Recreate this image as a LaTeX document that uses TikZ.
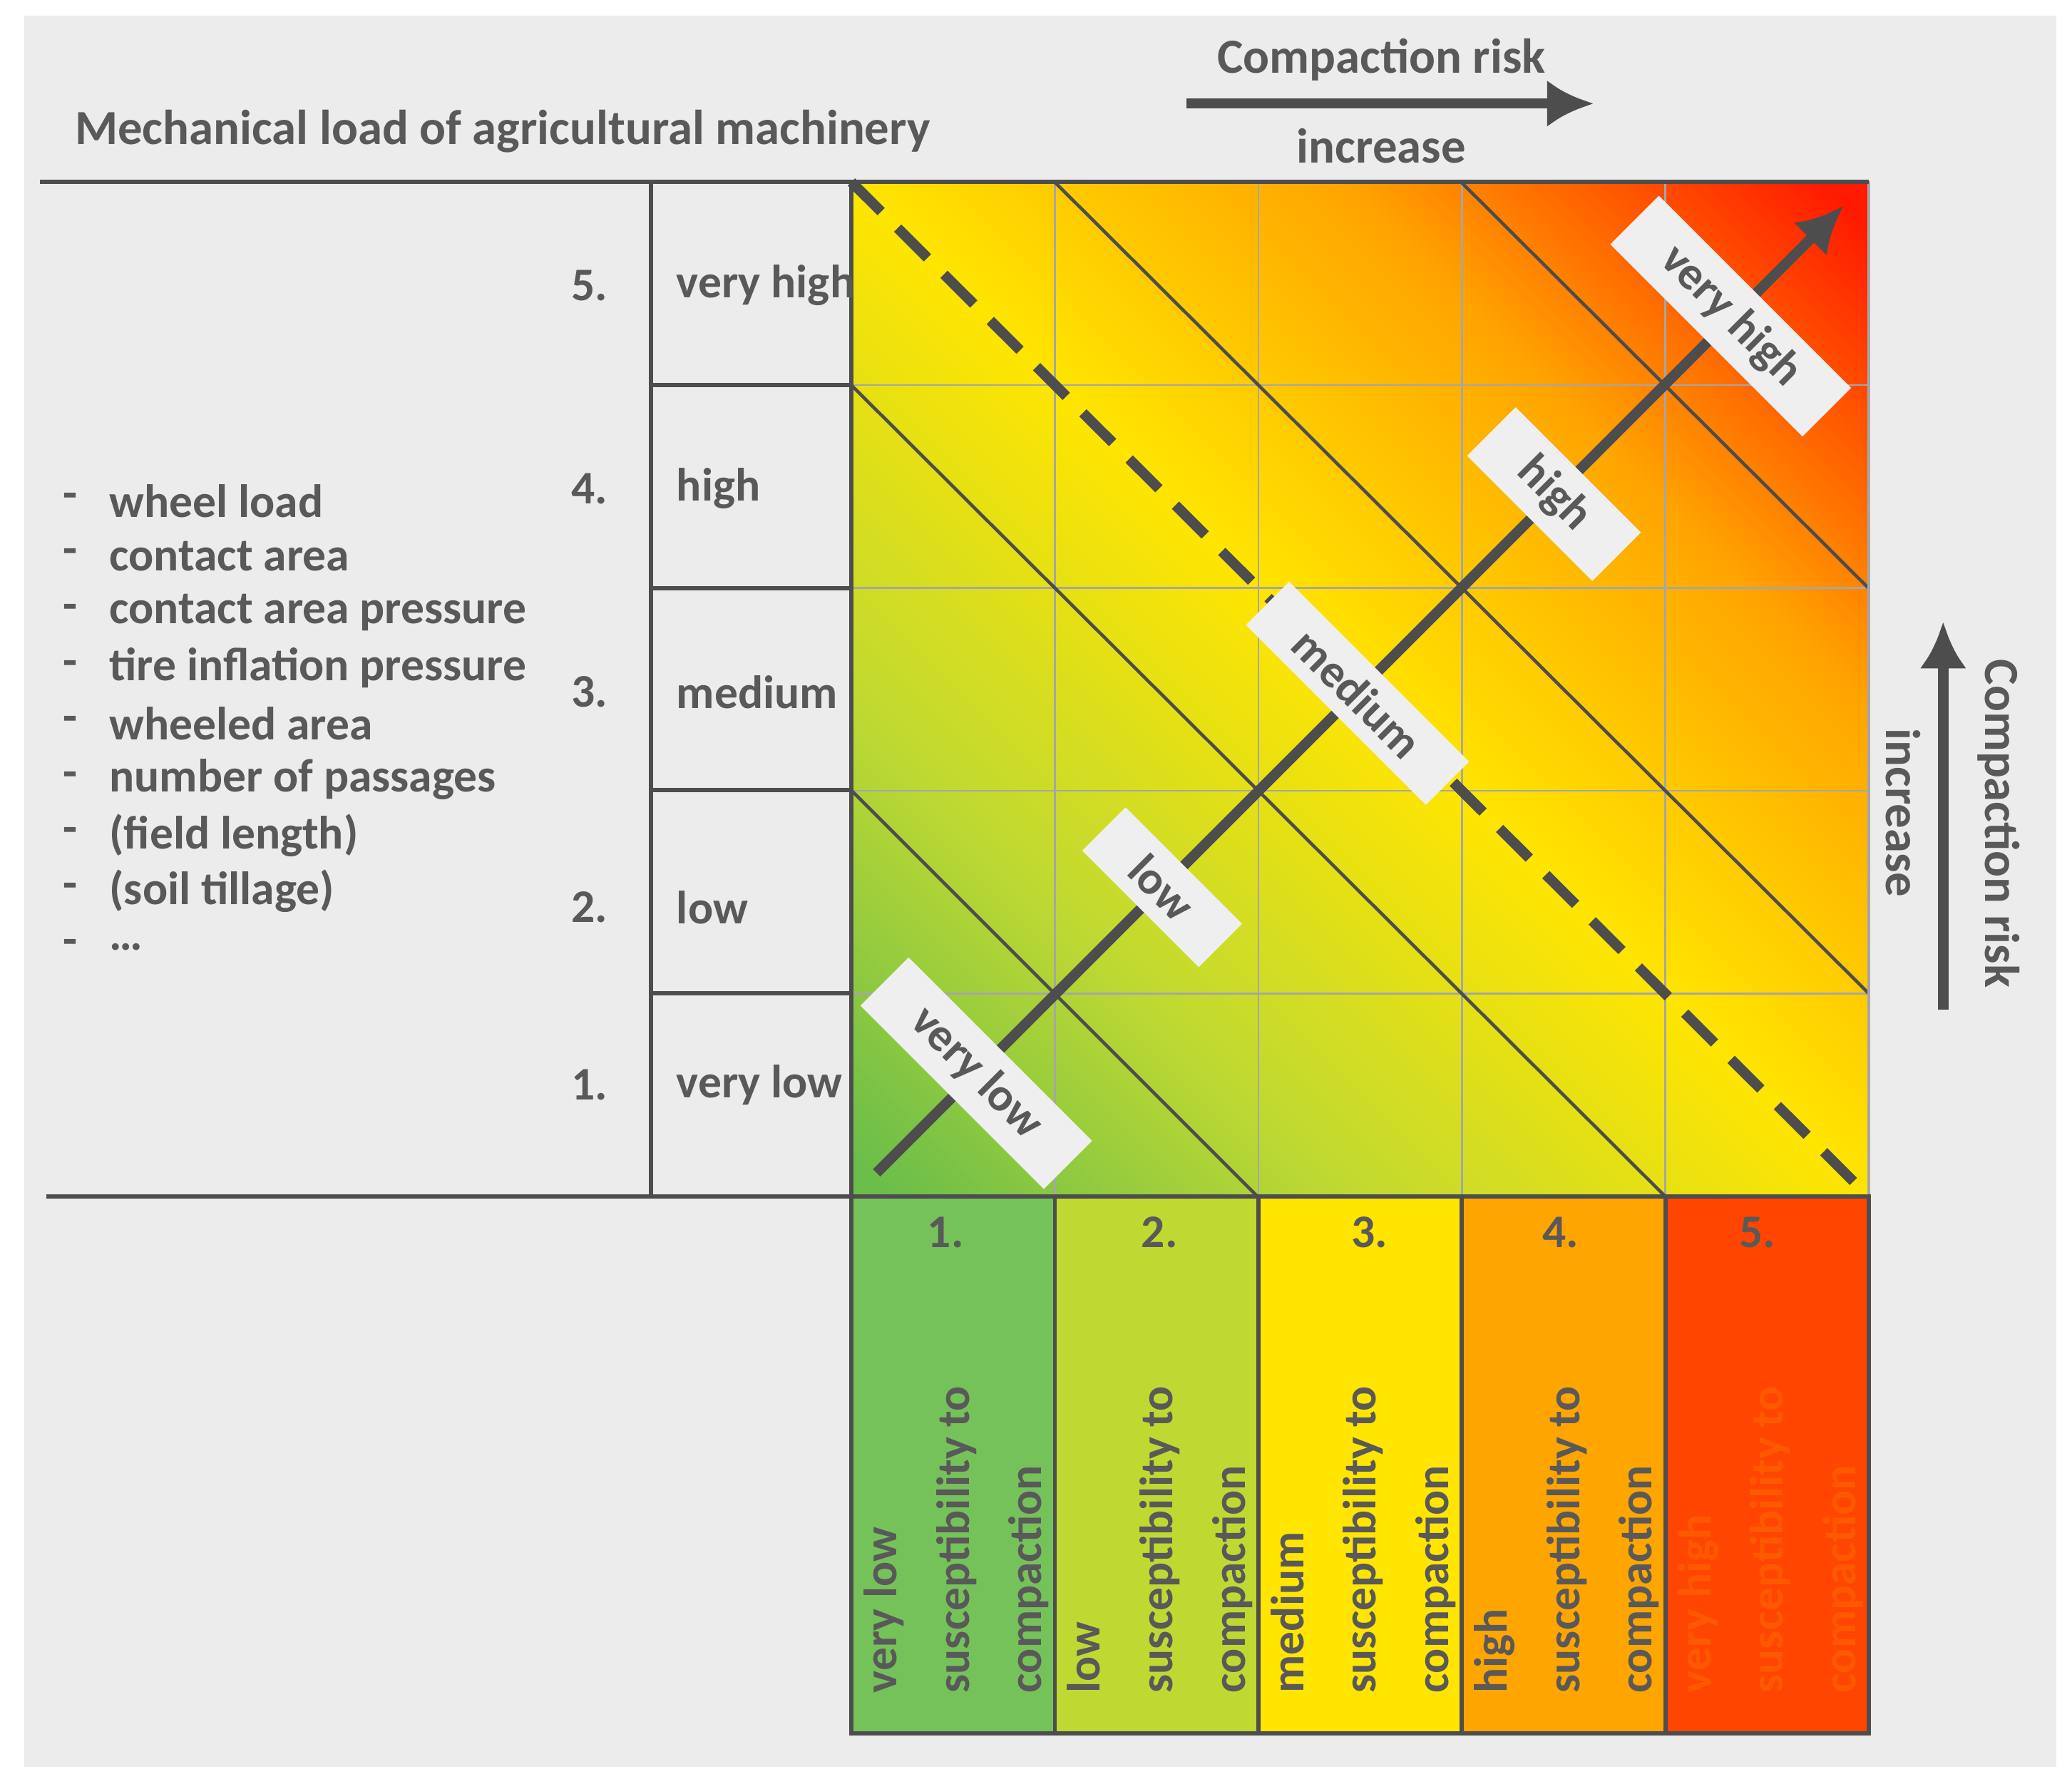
\documentclass[tikz,border=0pt]{standalone}
\usepackage{fontspec}
\setmainfont{Carlito}
\usetikzlibrary{positioning, calc, arrows.meta}
\definecolor{txtgray}{HTML}{595959}
\definecolor{linegray}{HTML}{4D4D4D}
\definecolor{bggray}{HTML}{ECECEC}
\definecolor{cgreen}{HTML}{76C25A}
\definecolor{cyg}{HTML}{C0D932}
\definecolor{cyel}{HTML}{FFE500}
\definecolor{corg}{HTML}{FFA500}
\definecolor{cred}{HTML}{FF4500}
\definecolor{sgreen}{HTML}{6CBE4A}
\definecolor{sred}{HTML}{FF1A00}
\pgfdeclarehorizontalshading{riskshade}{100bp}{color(0bp)=(sgreen); color(16bp)=(sgreen); color(32bp)=(cyg); color(50bp)=(cyel); color(67bp)=(corg); color(84bp)=(sred); color(100bp)=(sred)}
\tikzset{
  lbl/.style = {font=\bfseries\fontsize{10}{12}\selectfont, text=txtgray},
  title/.style = {font=\bfseries\fontsize{10.5}{12}\selectfont, text=txtgray},
  riskbox/.style = {fill=bggray!85!white, rotate=-45, font=\bfseries\fontsize{10}{12}\selectfont, text=txtgray, inner xsep=10pt, inner ysep=3pt},
  diag/.style = {draw=linegray, line width=0.7pt},
  bigarrow/.style = {draw=linegray, line width=2.2pt, -{Latex[length=10pt,width=10pt]}},
  susc/.style = {rotate=90, anchor=west, align=left, font=\bfseries\fontsize{10}{15.5}\selectfont}
}
\begin{document}
\begin{tikzpicture}[x=0.01cm, y=-0.01cm]
  \useasboundingbox (0,0) rectangle (1560,1343);
  \fill[bggray] (18,12) rectangle (1548,1330);
  % matrix
  \shade[shading=riskshade, shading angle=45] (641,137) rectangle (1407,901);
  \foreach \i in {1,2,3,4} {
    \draw[gray!70, line width=0.4pt] ({641+\i*153.2},137) -- ({641+\i*153.2},901);
    \draw[gray!70, line width=0.4pt] (641,{137+\i*152.8}) -- (1407,{137+\i*152.8});
  }
  \draw[diag] (641,595) -- (947,901);
  \draw[diag] (641,290) -- (1254,901);
  \draw[diag] (794,137) -- (1407,748);
  \draw[diag] (1100,137) -- (1407,443);
  \draw[linegray, line width=2.2pt, dash pattern=on 9pt off 5pt] (641,137) -- (1407,901);
  \draw[gray!70, line width=0.5pt] (641,137) rectangle (1407,901);
  % arrow with classes
  \coordinate (arrstart) at (660,883);
  \coordinate (arrend) at (1388,155);
  \draw[bigarrow] (arrstart) -- (arrend);
  \node[riskbox] (rvl) at (735,808) {very low};
  \node[riskbox] (rl) at (875,668) {low};
  \node[riskbox] (rm) at (1022,522) {medium};
  \node[riskbox] (rh) at (1170,372) {high};
  \node[riskbox] (rvh) at (1303,238) {very high};
  % left table
  \draw[linegray, line width=0.9pt] (30,137) -- (1407,137);
  \draw[linegray, line width=0.9pt] (35,901) -- (1407,901);
  \draw[linegray, line width=0.9pt] (490,137) -- (490,901);
  \foreach \y in {290,443,595,748} \draw[linegray, line width=0.9pt] (490,\y) -- (641,\y);
  \draw[linegray, line width=0.9pt] (641,137) -- (641,901);
  \foreach \n/\t/\y in {5/very high/215, 4/high/368, 3/medium/521, 2/low/683, 1/very low/817} {
    \node[lbl, anchor=east] (num\n) at (470,\y) {\n.};
    \node[lbl, anchor=west] at (497,\y) {\t};
  }
  \foreach \t [count=\k] in {wheel load, contact area, contact area pressure, tire inflation pressure, wheeled area, number of passages, (field length), (soil tillage), \ldots} {
    \node[lbl, anchor=west] at (35,{335+\k*42}) {-};
    \node[lbl, anchor=west] at (70,{335+\k*42}) {\t};
  }
  % titles
  \node[title, anchor=west] (mech) at (44,99) {Mechanical load of agricultural machinery};
  \node[title] (riskx) at (1040,45) {Compaction risk};
  \node[title] (incx) at (1040,110) {increase};
  \coordinate (ax0) at (893,78);
  \coordinate (ax1) at (1200,78);
  \draw[bigarrow] (ax0) -- (ax1);
  \node[title, rotate=-90] (risky) at (1505,620) {Compaction risk};
  \node[title, rotate=-90] (incy) at (1433,612) {increase};
  \coordinate (ay0) at (1463,760);
  \coordinate (ay1) at (1463,468);
  \draw[bigarrow] (ay0) -- (ay1);
  % susceptibility classes
  \foreach \c/\t/\tc/\nx [count=\k from 0] in {cgreen/very low/txtgray/712, cyg/low/txtgray/873, cyel/medium/txtgray/1031, corg/high/txtgray/1175, cred/very high/orange!70!red/1323} {
    \draw[linegray, line width=0.9pt, fill=\c] ({641+\k*153.2},901) rectangle ({641+(\k+1)*153.2},1305);
    \node[lbl] at (\nx,928) {\the\numexpr\k+1\relax.};
    \node[susc, text=\tc] at ({720+\k*153.2},1287) {\t\\susceptibility to\\compaction};
  }
\end{tikzpicture}
\end{document}
